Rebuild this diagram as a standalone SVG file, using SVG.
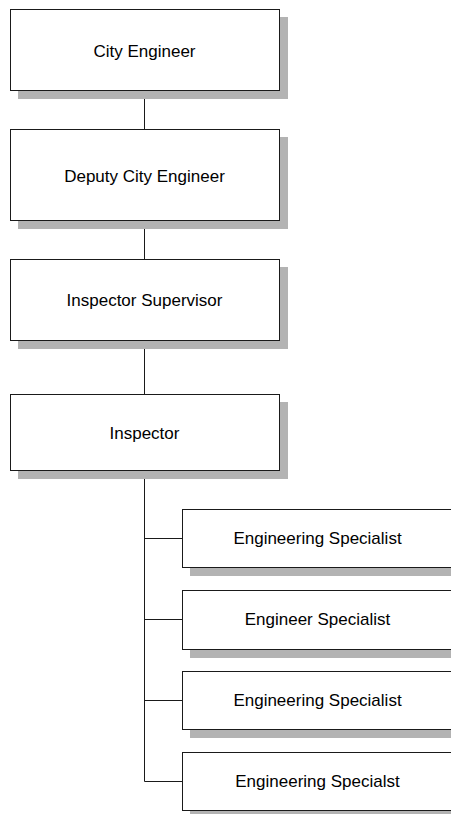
<svg xmlns="http://www.w3.org/2000/svg" width="451" height="814" viewBox="0 0 451 814">
  <style>
    .shadow { fill: #b3b3b3; }
    .box { fill: #ffffff; stroke: #1a1a1a; stroke-width: 1; }
    .label { font-family: "Liberation Sans", Arial, sans-serif; font-size: 17px; fill: #000000; text-anchor: middle; }
    .link { fill: none; stroke: #1a1a1a; stroke-width: 1; }
  </style>
  <rect width="451" height="814" fill="#ffffff"/>

  <g id="connectors">
    <path class="link" d="M144.5 90.5 V129.5 M144.5 220.5 V259.5 M144.5 340.5 V394.5 M144.5 470.5 V781.5"/>
    <path class="link" d="M144.5 538.5 H182.5 M144.5 619.5 H182.5 M144.5 700.5 H182.5 M144.5 781.5 H182.5"/>
  </g>

  <g id="city-engineer">
    <rect class="shadow" x="18" y="17" width="270" height="82"/>
    <rect class="box" x="10.5" y="9.5" width="269" height="81"/>
    <text class="label" x="144.5" y="56.5">City Engineer</text>
  </g>

  <g id="deputy-city-engineer">
    <rect class="shadow" x="18" y="137" width="270" height="92"/>
    <rect class="box" x="10.5" y="129.5" width="269" height="91"/>
    <text class="label" x="144.5" y="181.5">Deputy City Engineer</text>
  </g>

  <g id="inspector-supervisor">
    <rect class="shadow" x="18" y="267" width="270" height="82"/>
    <rect class="box" x="10.5" y="259.5" width="269" height="81"/>
    <text class="label" x="144.5" y="305.5">Inspector Supervisor</text>
  </g>

  <g id="inspector">
    <rect class="shadow" x="18" y="402" width="270" height="77"/>
    <rect class="box" x="10.5" y="394.5" width="269" height="76"/>
    <text class="label" x="144.5" y="438.5">Inspector</text>
  </g>

  <g id="engineering-specialist-1">
    <rect class="shadow" x="190" y="517" width="270" height="59"/>
    <rect class="box" x="182.5" y="509.5" width="270" height="58"/>
    <text class="label" x="317.5" y="543.5">Engineering Specialist</text>
  </g>

  <g id="engineer-specialist">
    <rect class="shadow" x="190" y="598" width="270" height="60"/>
    <rect class="box" x="182.5" y="590.5" width="270" height="59"/>
    <text class="label" x="317.5" y="625">Engineer Specialist</text>
  </g>

  <g id="engineering-specialist-2">
    <rect class="shadow" x="190" y="679" width="270" height="59"/>
    <rect class="box" x="182.5" y="671.5" width="270" height="58"/>
    <text class="label" x="317.5" y="706">Engineering Specialist</text>
  </g>

  <g id="engineering-specialst">
    <rect class="shadow" x="190" y="760" width="270" height="59"/>
    <rect class="box" x="182.5" y="752.5" width="270" height="58"/>
    <text class="label" x="317.5" y="787">Engineering Specialst</text>
  </g>
</svg>
